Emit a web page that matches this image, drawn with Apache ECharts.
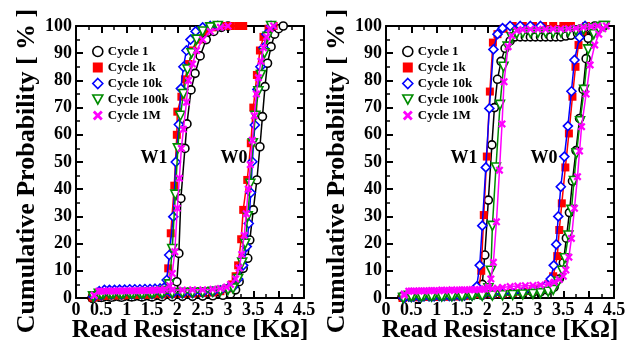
<!DOCTYPE html>
<html><head><meta charset="utf-8">
<script src="https://cdn.jsdelivr.net/npm/echarts@6/dist/echarts.min.js"></script>
<style>html,body{margin:0;padding:0;background:#fff}#c{width:634px;height:344px}</style>
</head><body><div id="c"></div>
<script>
// ---------- data ----------
const cycles = ['Cycle 1', 'Cycle 1k', 'Cycle 10k', 'Cycle 100k', 'Cycle 1M'];
const xAxisTitle = 'Read Resistance [KΩ]';
const yAxisTitle = 'Cumulative Probability [ % ]';
const annoText = ['W1', 'W0'];
const annoX = [1.54, 3.12];
const annoY = [51.5, 51.5];

// Left panel, W1 state
const leftW1_c1 = [[0.32,0],[0.45,0.3],[0.55,0.4],[0.65,0.5],[0.75,0.5],[0.85,0.5],[0.95,0.6],[1.05,0.6],[1.15,0.6],[1.25,0.7],[1.35,0.7],[1.45,0.7],[1.55,0.8],[1.65,0.9],[1.75,1.2],[1.85,2.5],[1.93,4],[1.99,6],[2.03,16.4],[2.07,36.6],[2.15,55],[2.19,64],[2.27,76.5],[2.35,82.6],[2.45,89],[2.57,95],[2.72,98],[2.87,99.5],[3.0,100]];
const leftW1_c1k = [[0.33,0.2],[0.44,0.5],[0.54,0.8],[0.64,0.9],[0.74,1],[0.84,1],[0.94,1],[1.04,1.1],[1.14,1.1],[1.24,1.2],[1.34,1.2],[1.44,1.3],[1.54,1.4],[1.64,1.6],[1.74,2.2],[1.79,4],[1.82,10.9],[1.87,23.8],[1.94,41.3],[1.99,60],[2.0,68.5],[2.08,74],[2.15,80.4],[2.22,86],[2.3,91],[2.42,95],[2.55,98],[2.7,99.5],[2.9,100],[3.05,100],[3.2,100],[3.3,100]];
const leftW1_c10k = [[0.35,0.5],[0.46,2.5],[0.56,3],[0.66,3],[0.76,3],[0.86,3.1],[0.96,3.1],[1.06,3.2],[1.16,3.2],[1.26,3.2],[1.36,3.3],[1.46,3.3],[1.56,3.4],[1.66,3.5],[1.74,3.8],[1.79,6.6],[1.84,15.8],[1.92,29.9],[1.97,50],[2.03,63.8],[2.07,77],[2.12,85],[2.18,91],[2.26,95],[2.36,98],[2.5,99.5],[2.65,100],[2.8,100]];
const leftW1_c100k = [[0.34,0.5],[0.45,1.5],[0.55,1.5],[0.65,1.6],[0.75,1.6],[0.85,1.6],[0.95,1.7],[1.05,1.7],[1.15,1.7],[1.25,1.8],[1.35,1.8],[1.45,1.9],[1.55,2],[1.65,2.2],[1.75,2.6],[1.84,5],[1.9,18],[1.96,38],[2.01,55],[2.06,67],[2.12,75],[2.2,84],[2.28,90],[2.38,95],[2.5,98],[2.65,99.5],[2.8,100]];
const leftW1_c1M = [[0.36,1],[0.45,2.5],[0.55,2.6],[0.65,2.6],[0.75,2.6],[0.85,2.7],[0.95,2.7],[1.05,2.7],[1.15,2.7],[1.25,2.8],[1.35,2.8],[1.45,2.8],[1.55,2.9],[1.65,3],[1.75,3.3],[1.85,4.5],[1.9,9],[1.95,17],[2.0,33],[2.04,44],[2.08,55],[2.12,62],[2.18,72],[2.22,80],[2.3,86],[2.38,91],[2.5,95],[2.65,98],[2.85,99.5],[3.0,100]];

// Left panel, W0 state
const leftW0_c1 = [[0.32,0],[0.5,0.2],[0.7,0.3],[0.9,0.3],[1.1,0.4],[1.3,0.4],[1.5,0.4],[1.7,0.5],[1.9,0.5],[2.1,0.6],[2.3,0.6],[2.5,0.7],[2.7,0.8],[2.9,1],[3.05,1.5],[3.15,3],[3.22,6],[3.3,10.9],[3.39,14.6],[3.43,21.3],[3.5,32.4],[3.57,43.4],[3.63,55.6],[3.68,66.7],[3.73,77.7],[3.78,86.3],[3.85,92.4],[3.92,97],[4.0,99],[4.09,100]];
const leftW0_c1k = [[0.33,0.2],[0.5,0.8],[0.7,1],[0.9,1],[1.1,1.1],[1.3,1.1],[1.5,1.2],[1.7,1.3],[1.9,1.4],[2.1,1.5],[2.3,1.6],[2.5,1.8],[2.7,2],[2.85,2.5],[2.98,3.5],[3.08,5],[3.15,8],[3.2,12],[3.26,21.6],[3.3,32.4],[3.38,43.4],[3.45,56.9],[3.5,70],[3.57,82],[3.63,91],[3.7,96],[3.8,99],[3.9,100]];
const leftW0_c10k = [[0.35,0.5],[0.5,1],[0.7,1.2],[0.9,1.2],[1.1,1.3],[1.3,1.3],[1.5,1.4],[1.7,1.5],[1.9,1.6],[2.1,1.7],[2.3,1.8],[2.5,2],[2.7,2.3],[2.85,2.8],[3.0,3.5],[3.1,4],[3.2,7],[3.3,12],[3.37,18.9],[3.41,27.4],[3.45,38.7],[3.48,50.1],[3.53,63.6],[3.58,76.7],[3.64,85],[3.7,92],[3.76,97],[3.85,100]];
const leftW0_c100k = [[0.34,0.5],[0.5,1.3],[0.7,1.5],[0.9,1.5],[1.1,1.6],[1.3,1.6],[1.5,1.7],[1.7,1.7],[1.9,1.8],[2.1,1.9],[2.3,2],[2.5,2.1],[2.7,2.3],[2.85,2.6],[3.0,3],[3.1,3.5],[3.2,7],[3.28,13],[3.34,20],[3.39,30],[3.44,42],[3.49,56.9],[3.54,67],[3.6,76],[3.65,82],[3.72,90],[3.78,96],[3.85,100]];
const leftW0_c1M = [[0.36,1],[0.5,2.5],[0.7,2.6],[0.9,2.6],[1.1,2.7],[1.3,2.7],[1.5,2.8],[1.7,2.8],[1.9,2.9],[2.1,2.9],[2.3,3],[2.5,3],[2.7,3.2],[2.85,3.5],[2.97,4],[3.05,5],[3.15,7],[3.22,11],[3.27,16],[3.32,23],[3.36,31],[3.4,40],[3.44,49],[3.48,58],[3.52,67],[3.56,75],[3.6,81],[3.65,87],[3.7,92],[3.76,96],[3.83,99],[3.9,100]];

// Right panel, W1 state
const rightW1_c1 = [[0.32,0.5],[0.45,1],[0.55,1],[0.65,1],[0.75,1],[0.85,1.1],[0.95,1.1],[1.05,1.1],[1.15,1.2],[1.25,1.2],[1.35,1.2],[1.45,1.3],[1.55,1.3],[1.65,1.5],[1.75,2],[1.85,3],[1.9,5],[1.95,15.8],[2.02,36],[2.09,56.3],[2.14,70],[2.2,80.4],[2.27,87],[2.35,91.8],[2.45,94.5],[2.55,96],[2.65,96],[2.75,96],[2.85,96],[2.95,96],[3.05,96],[3.15,96],[3.25,96],[3.35,96],[3.45,96],[3.55,96.3],[3.65,96.6],[3.78,97.2],[3.9,98],[4.02,98.8],[4.15,99.5],[4.3,100]];
const rightW1_c1k = [[0.33,0],[0.45,0.3],[0.55,0.3],[0.65,0.3],[0.75,0.4],[0.85,0.4],[0.95,0.4],[1.05,0.5],[1.15,0.5],[1.25,0.5],[1.35,0.6],[1.45,0.6],[1.55,0.7],[1.65,0.9],[1.75,1.5],[1.83,3],[1.88,10],[1.93,30.5],[1.99,52],[2.05,75.9],[2.11,93.9],[2.2,97],[2.32,99],[2.5,100],[2.7,100],[2.9,100],[3.1,100],[3.3,100],[3.5,100],[3.65,100]];
const rightW1_c10k = [[0.35,0],[0.45,0.5],[0.55,0.5],[0.65,0.5],[0.75,0.6],[0.85,0.6],[0.95,0.6],[1.05,0.7],[1.15,0.7],[1.25,0.7],[1.35,0.8],[1.45,0.8],[1.55,0.9],[1.65,1.2],[1.73,2.5],[1.79,4.2],[1.85,12],[1.9,26.6],[1.97,48],[2.04,69.7],[2.12,91.4],[2.2,97],[2.3,99.2],[2.45,100],[2.65,100],[2.85,100],[3.05,100]];
const rightW1_c100k = [[0.34,0],[0.45,0.8],[0.55,0.8],[0.65,0.9],[0.75,0.9],[0.85,0.9],[0.95,1],[1.05,1],[1.15,1],[1.25,1.1],[1.35,1.1],[1.45,1.2],[1.55,1.2],[1.65,1.3],[1.75,1.4],[1.85,1.6],[1.95,2.2],[2.02,3.6],[2.07,10],[2.1,26.5],[2.17,48],[2.25,71],[2.32,85],[2.4,92.4],[2.48,95.8],[2.58,97.2],[2.7,97.5],[2.85,97.5],[3.0,97.5],[3.15,97.6],[3.3,97.6],[3.45,97.7],[3.6,98],[3.75,98.3],[3.9,98.7],[4.05,99.2],[4.2,99.6],[4.32,100]];
const rightW1_c1M = [[0.36,1],[0.45,2.5],[0.55,2.6],[0.65,2.6],[0.75,2.6],[0.85,2.7],[0.95,2.7],[1.05,2.7],[1.15,2.8],[1.25,2.8],[1.35,2.8],[1.45,2.9],[1.55,2.9],[1.65,3],[1.75,3],[1.85,3.1],[1.95,3.3],[2.02,4],[2.07,7],[2.12,13.1],[2.18,28],[2.24,47],[2.29,64],[2.33,79.5],[2.41,92.4],[2.48,96.5],[2.58,98.3],[2.7,98.7],[2.85,98.8],[3.0,98.8],[3.15,98.8],[3.3,98.9],[3.45,98.9],[3.6,99],[3.75,99.2],[3.9,99.5],[4.05,99.8],[4.18,100]];

// Right panel, W0 state
const rightW0_c1 = [[0.32,0.3],[0.5,0.8],[0.7,0.9],[0.9,0.9],[1.1,1],[1.3,1],[1.5,1],[1.7,1.1],[1.9,1.1],[2.1,1.2],[2.3,1.3],[2.5,1.5],[2.7,1.7],[2.9,2],[3.05,2.3],[3.2,2.8],[3.32,4],[3.42,7],[3.5,13],[3.56,22],[3.62,31.4],[3.68,43],[3.75,54.2],[3.82,66],[3.89,76.7],[3.95,88],[3.99,95.5],[4.05,99],[4.12,100]];
const rightW0_c1k = [[0.33,0],[0.5,0.5],[0.7,0.6],[0.9,0.7],[1.1,0.8],[1.3,0.9],[1.5,1],[1.7,1.1],[1.9,1.2],[2.1,1.4],[2.3,1.6],[2.5,1.9],[2.7,2.3],[2.9,2.8],[3.05,3.5],[3.2,5],[3.3,8],[3.38,15.4],[3.42,25],[3.47,34.8],[3.54,48],[3.61,60.5],[3.68,74],[3.74,85],[3.8,93],[3.88,98],[3.95,100]];
const rightW0_c10k = [[0.35,0],[0.5,0.3],[0.7,0.4],[0.9,0.5],[1.1,0.6],[1.3,0.7],[1.5,0.8],[1.7,0.9],[1.9,1],[2.1,1.2],[2.3,1.5],[2.5,1.8],[2.7,2.2],[2.9,2.8],[3.05,3.5],[3.15,4.5],[3.25,7],[3.31,12],[3.36,19.7],[3.4,30],[3.45,40.9],[3.52,52],[3.59,63.2],[3.66,76],[3.72,87.5],[3.82,95.8],[3.88,99],[3.93,100]];
const rightW0_c100k = [[0.34,0],[0.5,0.5],[0.7,0.5],[0.9,0.6],[1.1,0.6],[1.3,0.7],[1.5,0.7],[1.7,0.8],[1.9,0.8],[2.1,0.9],[2.3,1],[2.5,1.1],[2.7,1.3],[2.9,1.5],[3.05,1.8],[3.2,2.3],[3.3,3],[3.4,6],[3.48,10],[3.53,14.6],[3.6,23],[3.66,32.4],[3.71,43],[3.76,53.2],[3.83,65],[3.91,76.5],[3.99,91.4],[4.1,97],[4.2,99],[4.3,100]];
const rightW0_c1M = [[0.36,1.5],[0.5,2.6],[0.7,2.7],[0.9,2.8],[1.1,2.9],[1.3,3],[1.5,3],[1.7,3.1],[1.9,3.2],[2.1,3.4],[2.2,3.6],[2.3,3.9],[2.45,4.2],[2.6,4.4],[2.75,4.5],[2.9,4.6],[3.05,4.8],[3.2,5.2],[3.32,5.8],[3.42,6.8],[3.5,8],[3.55,10.3],[3.61,15],[3.66,21.9],[3.72,33],[3.78,44.6],[3.82,54],[3.86,63],[3.95,75],[4.03,85.7],[4.12,93],[4.2,97],[4.28,99],[4.35,100]];

const panels = [
  { W1: [leftW1_c1, leftW1_c1k, leftW1_c10k, leftW1_c100k, leftW1_c1M],
    W0: [leftW0_c1, leftW0_c1k, leftW0_c10k, leftW0_c100k, leftW0_c1M] },
  { W1: [rightW1_c1, rightW1_c1k, rightW1_c10k, rightW1_c100k, rightW1_c1M],
    W0: [rightW0_c1, rightW0_c1k, rightW0_c10k, rightW0_c100k, rightW0_c1M] }
];

// ---------- styles ----------
const FONT = '"Liberation Serif","Times New Roman",serif';
const XPATH = 'path://M0,2L2,0L5,3L8,0L10,2L7,5L10,8L8,10L5,7L2,10L0,8L3,5Z';
const TRI_DOWN = 'path://M0,0L10,0L5,9Z';
const lineColors = ['#000000', '#ff0000', '#0000ff', '#008c00', '#ff00ff'];
const fillColors = ['#ffffff', '#ff0000', '#ffffff', '#ffffff', '#ff00ff'];
const shapes = ['circle', 'rect', 'diamond', 'triangle', XPATH];
const legendShapes = ['circle', 'rect', 'diamond', TRI_DOWN, XPATH];
const rotations = [0, 0, 0, 180, 0];
const sizes = [8, 8, 9, 9, 8];
const borders = [1.6, 0, 1.6, 1.6, 0];

const gridLeft = [76, 386];
const grids = gridLeft.map(l => ({ left: l, top: 26, width: 228, height: 272, containLabel: false, outerBoundsMode: 'none' }));

const tickStyle = { color: '#000', width: 2 };
function xAxisFor(g, top) {
  return {
    type: 'value', gridIndex: g, min: 0, max: 4.5, interval: 0.5,
    position: top ? 'top' : 'bottom',
    axisLine: { show: true, onZero: false, lineStyle: { color: '#000', width: 2 } },
    axisTick: { show: true, inside: true, length: 7, lineStyle: tickStyle },
    minorTick: { show: true, splitNumber: 2, length: 4, lineStyle: { color: '#000', width: 1.5 } },
    splitLine: { show: false },
    axisLabel: top ? { show: false } : { show: true, margin: 3, color: '#000', fontFamily: FONT, fontWeight: 'bold', fontSize: 18 },
    name: top ? '' : xAxisTitle,
    nameLocation: 'middle', nameGap: 20, nameMoveOverlap: false,
    nameTextStyle: { color: '#000', fontFamily: FONT, fontWeight: 'bold', fontSize: 25 }
  };
}
function yAxisFor(g, right) {
  return {
    type: 'value', gridIndex: g, min: 0, max: 100, interval: 10,
    position: right ? 'right' : 'left',
    axisLine: { show: true, onZero: false, lineStyle: { color: '#000', width: 2 } },
    axisTick: { show: true, inside: true, length: 7, lineStyle: tickStyle },
    minorTick: { show: true, splitNumber: 2, length: 4, lineStyle: { color: '#000', width: 1.5 } },
    splitLine: { show: false },
    axisLabel: right ? { show: false } : { show: true, margin: 4, color: '#000', fontFamily: FONT, fontWeight: 'bold', fontSize: 18 },
    name: right ? '' : yAxisTitle,
    nameLocation: 'middle', nameGap: 36, nameMoveOverlap: false,
    nameTextStyle: { color: '#000', fontFamily: FONT, fontWeight: 'bold', fontSize: 26, padding: [0, 18, 0, 0] }
  };
}

const xAxes = [], yAxes = [];
[0, 1].forEach(g => {
  xAxes.push(xAxisFor(g, false), xAxisFor(g, true));
  yAxes.push(yAxisFor(g, false), yAxisFor(g, true));
});

const series = [];
panels.forEach((panel, p) => {
  cycles.forEach((name, i) => {
    ['W1', 'W0'].forEach(state => {
      series.push({
        type: 'line', name: name,
        xAxisIndex: 2 * p, yAxisIndex: 2 * p,
        data: panel[state][i],
        symbol: shapes[i], symbolSize: sizes[i], symbolRotate: rotations[i],
        showAllSymbol: true, smooth: false,
        lineStyle: { color: lineColors[i], width: 1.5 },
        itemStyle: { color: fillColors[i], borderColor: lineColors[i], borderWidth: borders[i] },
        emphasis: { disabled: true },
        z: 2 + i
      });
    });
  });
});

const legends = gridLeft.map(l => ({
  orient: 'vertical', left: l + 16, top: 45, padding: 0,
  itemWidth: 10, itemHeight: 10, itemGap: 3, selectedMode: false,
  textStyle: { color: '#000', fontFamily: FONT, fontWeight: 'bold', fontSize: 13 },
  data: cycles.map((c, i) => ({
    name: c, icon: legendShapes[i],
    itemStyle: { color: fillColors[i], borderColor: lineColors[i], borderWidth: borders[i] }
  }))
}));

const option = {
  animation: false,
  backgroundColor: '#fff',
  grid: grids,
  xAxis: xAxes,
  yAxis: yAxes,
  legend: legends,
  series: series
};

const chart = echarts.init(document.getElementById('c'), null, { renderer: 'canvas' });
chart.setOption(option);

const graphics = [];
[0, 1].forEach(p => {
  annoText.forEach((t, k) => {
    const pt = chart.convertToPixel({ xAxisIndex: 2 * p, yAxisIndex: 2 * p }, [annoX[k], annoY[k]]);
    graphics.push({
      type: 'text', x: pt[0], y: pt[1], z: 50,
      style: { text: t, fill: '#000', fontFamily: FONT, fontWeight: 'bold', fontSize: 18, align: 'center', verticalAlign: 'middle' }
    });
  });
});
chart.setOption({ graphic: graphics });
</script>
</body></html>
